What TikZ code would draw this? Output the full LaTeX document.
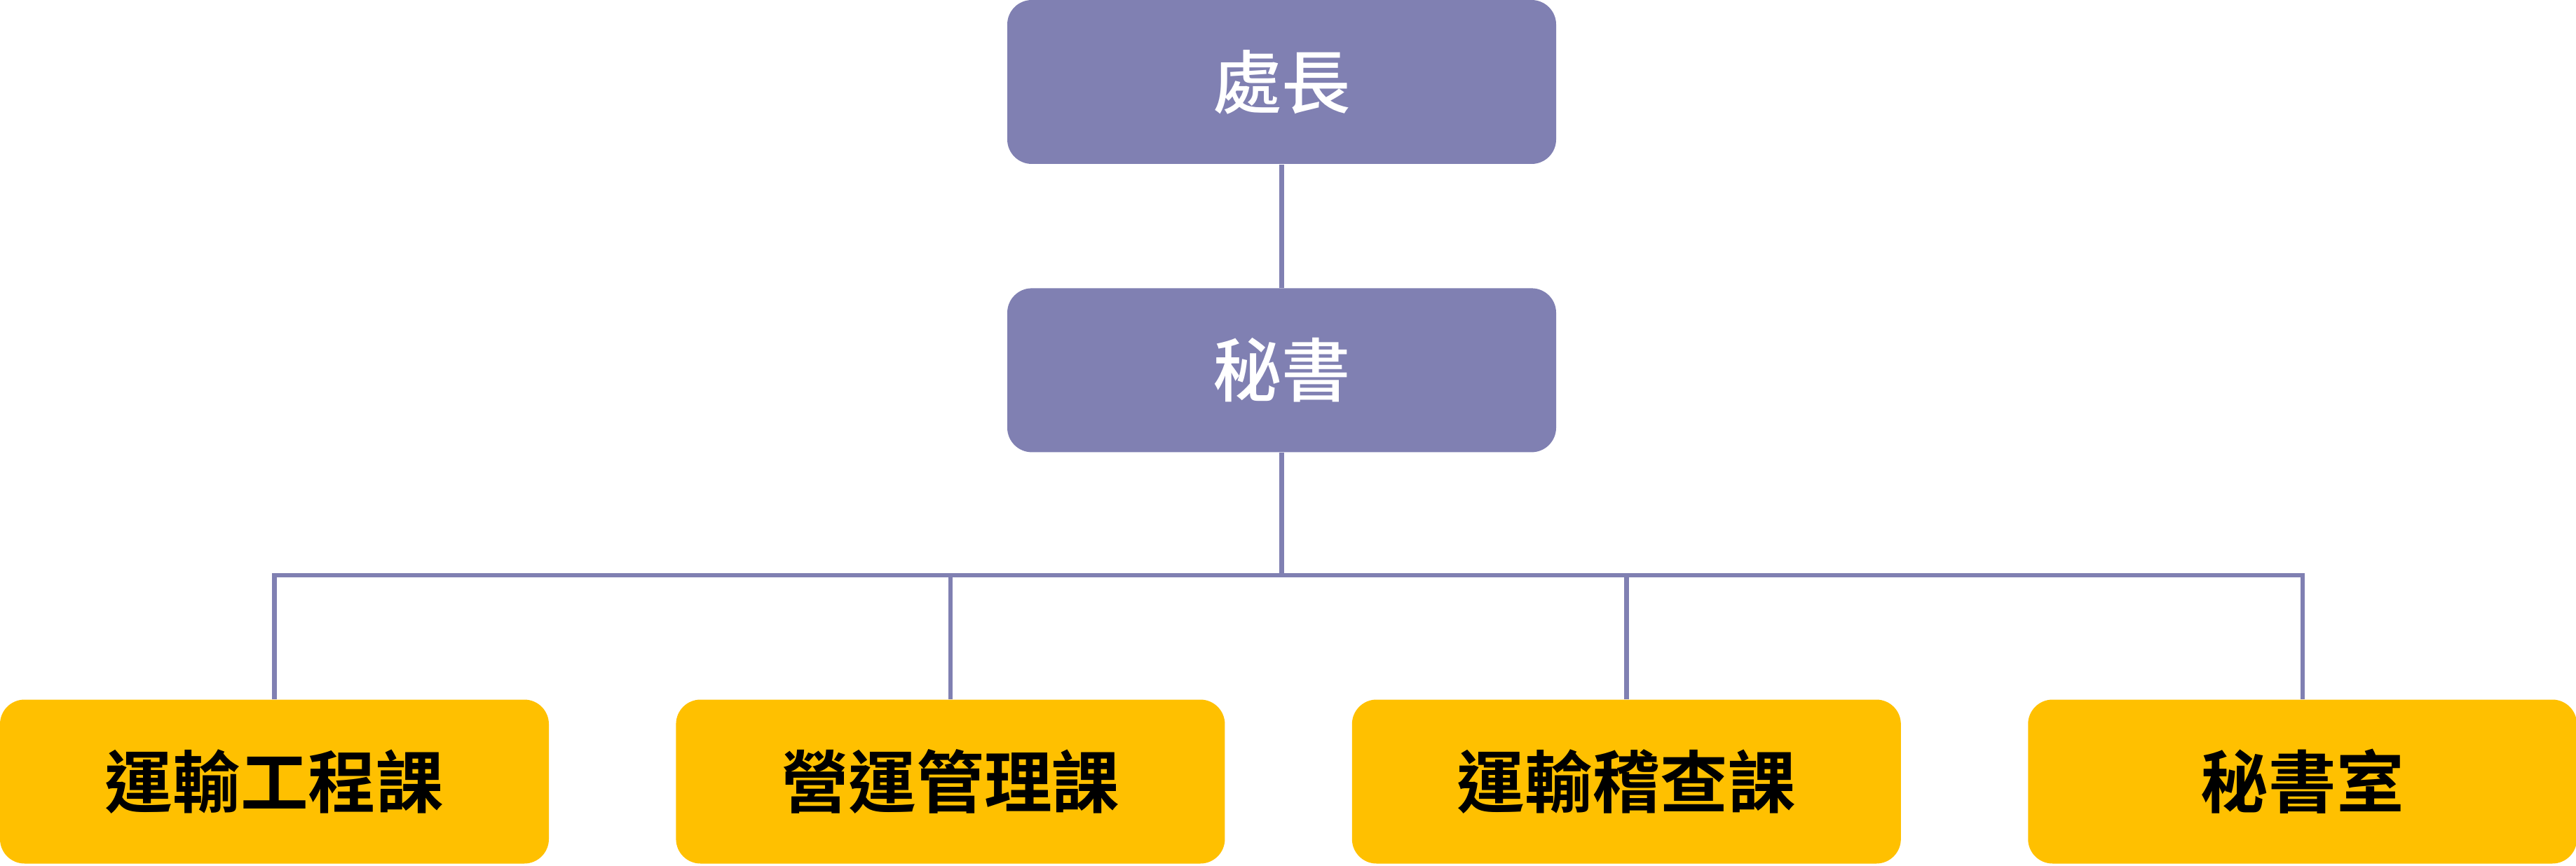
\documentclass[tikz,border=0pt]{standalone}
\usepackage{fontspec,tikz}
\usetikzlibrary{positioning}
\newfontfamily\tcfont{Noto Sans CJK TC Medium}
\newfontfamily\tcbold{Noto Sans CJK TC Bold}
\definecolor{lilac}{HTML}{8080B2}
\definecolor{amber}{HTML}{FFC000}

\begin{document}
\begin{tikzpicture}[node distance=1.76cm, every node/.style={align=center}, head/.style={fill=lilac,text=white,rounded corners=0.35cm,minimum width=7.83cm,minimum height=2.34cm,inner sep=0pt,font=\tcfont\fontsize{28}{34}\selectfont}, unit/.style={head,fill=amber,text=black,font=\tcbold\fontsize{27.5}{34}\selectfont}, link/.style={draw=lilac,line width=1.8pt}]
\useasboundingbox (0,0) rectangle (36.75,-12.36);
\node[head] (chief) at (18.285,-1.17) {處長};
\node[head,below=of chief] (sec) {秘書};
\node[unit] (eng) at (3.915,-11.155) {運輸工程課};
\node[unit,right=1.8cm of eng] (ops) {營運管理課};
\node[unit,right=1.8cm of ops] (aud) {運輸稽查課};
\node[unit,right=1.8cm of aud] (office) {秘書室};
\coordinate[below=1.75cm of sec.south] (hub);
\draw[link] (chief)--(sec);\draw[link] (sec)--(hub);
\foreach \u in {eng,ops,aud,office} \draw[link] (hub) -| (\u.north);
\end{tikzpicture}
\end{document}
